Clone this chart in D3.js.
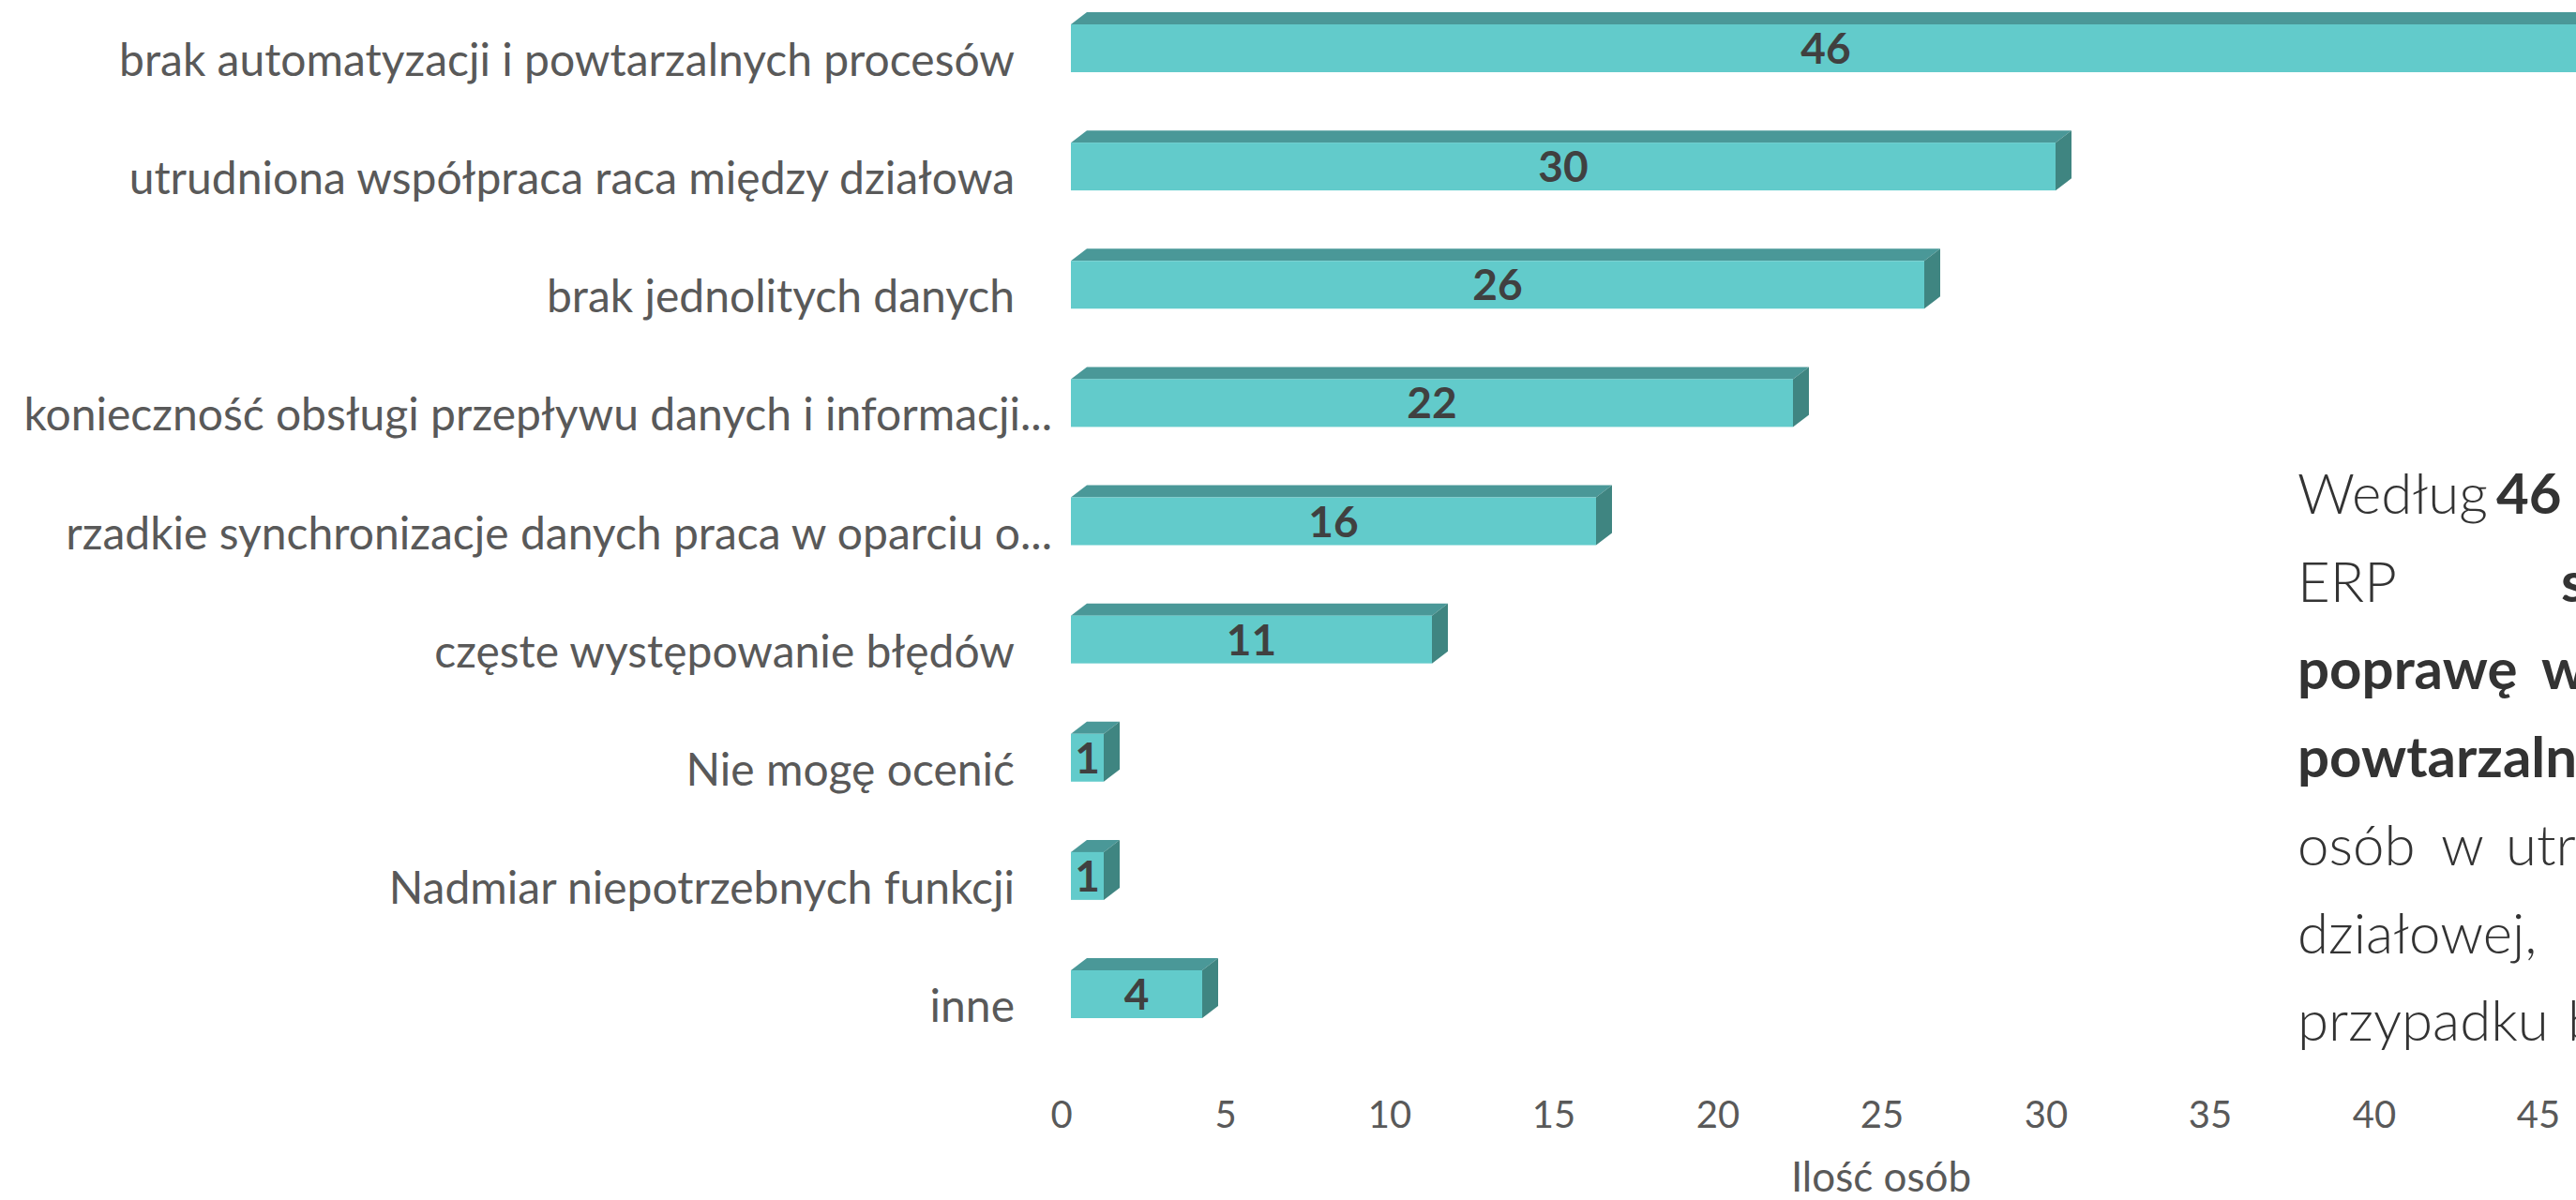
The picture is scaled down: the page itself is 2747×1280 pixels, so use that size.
<!DOCTYPE html>
<html lang="pl">
<head>
<meta charset="utf-8">
<script src="https://cdn.jsdelivr.net/npm/d3@7"></script>
<style>
  html, body { margin: 0; padding: 0; background: #ffffff; overflow: hidden; }
  svg { display: block; }
</style>
</head>
<body>
<svg id="chart" width="2747" height="1280"></svg>
<script>
// Problemy zgłaszane przed wdrożeniem systemu ERP (liczba osób)
const categories = [
  "brak automatyzacji i powtarzalnych procesów",
  "utrudniona współpraca raca między działowa",
  "brak jednolitych danych",
  "konieczność obsługi przepływu danych i informacji...",
  "rzadkie synchronizacje danych praca w oparciu o...",
  "częste występowanie błędów",
  "Nie mogę ocenić",
  "Nadmiar niepotrzebnych funkcji",
  "inne"
];
const values = [46, 30, 26, 22, 16, 11, 1, 1, 4];
const tickValues = [0, 5, 10, 15, 20, 25, 30, 35, 40, 45];
const axisTitle = "Ilość osób";

// Paragraph beside the chart: each line is a list of [word, bold]
const noteLines = [
  [["Według", false], ["46", true]],
  [["ERP", false], ["s", true]],
  [["poprawę", true], ["w", true]],
  [["powtarzalnych", true]],
  [["osób", false], ["w", false], ["utrudnionej", false]],
  [["działowej,", false]],
  [["przypadku", false], ["b", false]]
];
const noteWordX = [
  [2450, 2662],
  [2450, 2731],
  [2450, 2710],
  [2450],
  [2450, 2603, 2672],
  [2450],
  [2450, 2738]
];

const svg = d3.select("#chart");
const FONT = "Lato, 'Open Sans', sans-serif";

const x = d3.scaleLinear().domain([0, 50]).range([1142, 1142 + 50 * 35]);
const y = d3.scalePoint().domain(categories).range([51.5, 1060.5]);

const barH = 51;        // front face height
const dx = 17, dy = 13; // 3D depth offset
const tickShift = -10.5; // axis labels sit on the back plane

const colFront = "#62cbcb", colTop = "#4a9898", colSide = "#3f8581";

const bars = svg.append("g").attr("class", "bars")
  .selectAll("g").data(categories.map((c, i) => ({ c, v: values[i] })))
  .join("g");

bars.each(function (d) {
  const g = d3.select(this);
  const x0 = x(0), x1 = x(d.v);
  const yt = y(d.c) - barH / 2, yb = y(d.c) + barH / 2;
  // top face
  g.append("path")
    .attr("d", `M${x0},${yt}L${x0 + dx},${yt - dy}L${x1 + dx},${yt - dy}L${x1},${yt}Z`)
    .attr("fill", colTop);
  // side face
  g.append("path")
    .attr("d", `M${x1},${yt}L${x1 + dx},${yt - dy}L${x1 + dx},${yb - dy}L${x1},${yb}Z`)
    .attr("fill", colSide);
  // front face
  g.append("rect")
    .attr("x", x0).attr("y", yt)
    .attr("width", x1 - x0).attr("height", barH)
    .attr("fill", colFront);
  // value label
  g.append("text")
    .attr("x", (x0 + x1) / 2)
    .attr("y", y(d.c) + 16.5)
    .attr("text-anchor", "middle")
    .attr("font-family", FONT)
    .attr("font-weight", 700)
    .attr("font-size", 46)
    .attr("fill", "#404040")
    .text(d.v);
});

// category labels
svg.append("g").attr("class", "cat-labels")
  .selectAll("text").data(categories)
  .join("text")
  .attr("x", d => d.endsWith("...") ? 1122 : 1082)
  .attr("y", d => y(d) + barH / 2 + 4)
  .attr("text-anchor", "end")
  .attr("font-family", FONT)
  .attr("font-size", 48)
  .attr("fill", "#595959")
  .text(d => d);

// value axis (labels only)
const axis = d3.axisBottom(d3.scaleLinear().domain(x.domain()).range(x.range().map(r => r + tickShift)))
  .tickValues(tickValues)
  .tickSize(0)
  .tickPadding(0);
const ax = svg.append("g").attr("transform", "translate(0,1170)").call(axis);
ax.select(".domain").remove();
ax.selectAll("text")
  .attr("font-family", FONT)
  .attr("font-size", 40)
  .attr("fill", "#595959")
  .attr("dy", 0)
  .attr("y", 33);

svg.append("text")
  .attr("x", 2006).attr("y", 1271)
  .attr("text-anchor", "middle")
  .attr("font-family", FONT)
  .attr("font-size", 44)
  .attr("fill", "#595959")
  .text(axisTitle);

// paragraph
const note = svg.append("g").attr("class", "note");
noteLines.forEach((line, i) => {
  const t = note.append("text")
    .attr("y", 548 + i * 93.7)
    .attr("font-family", FONT)
    .attr("font-size", 60)
    .attr("fill", "#333333");
  line.forEach(([w, b], j) => {
    t.append("tspan")
      .attr("x", noteWordX[i][j])
      .attr("font-weight", b ? 700 : 300)
      .text(w);
  });
});
</script>
</body>
</html>
